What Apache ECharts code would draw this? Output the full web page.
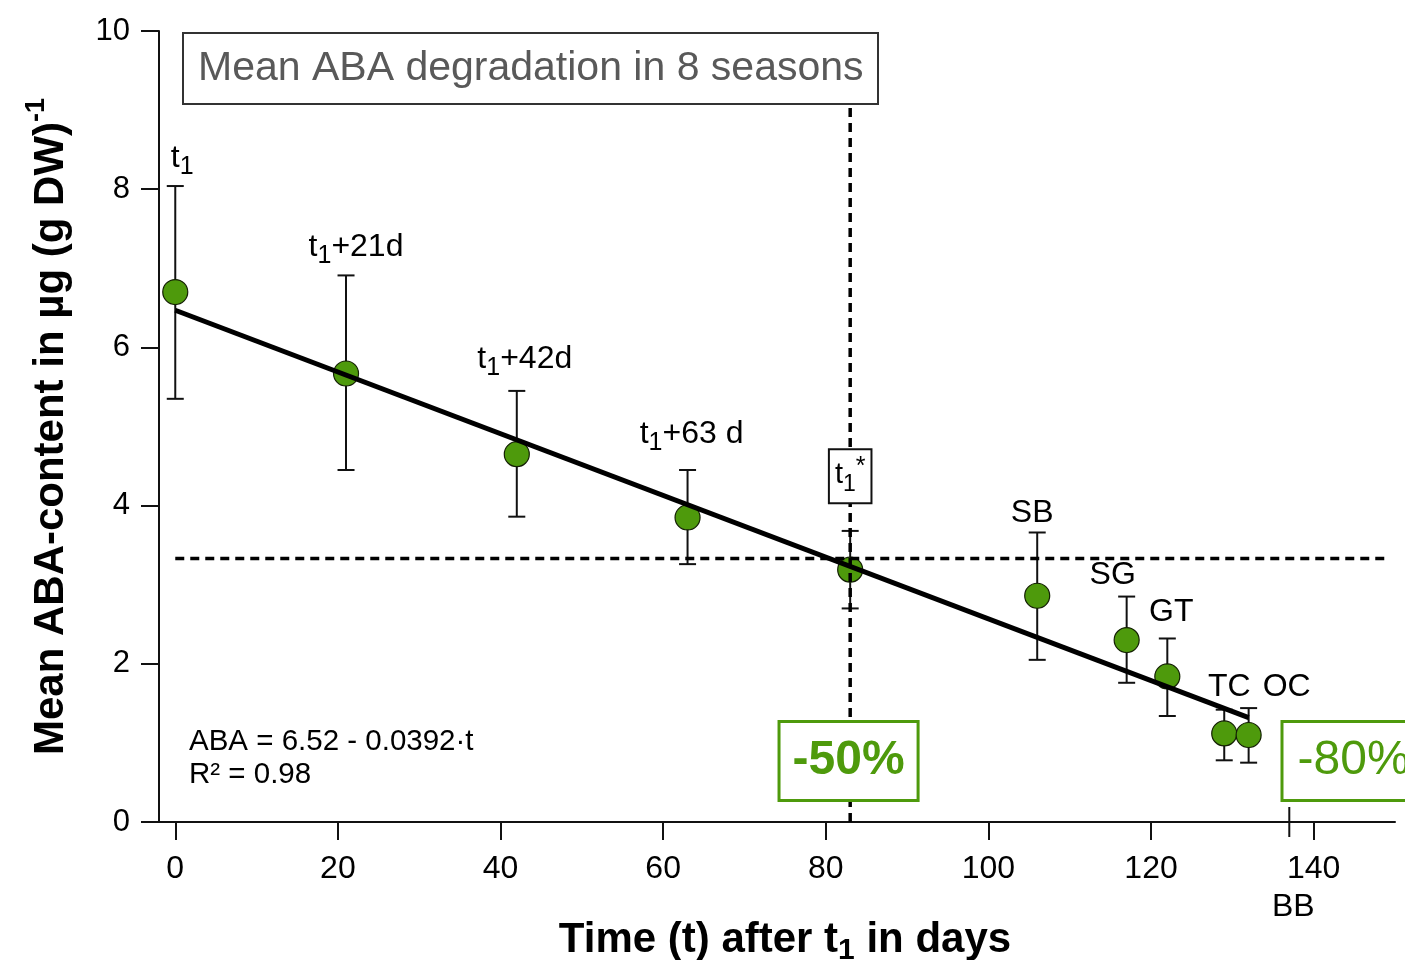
<!DOCTYPE html>
<html>
<head>
<meta charset="utf-8">
<title>Mean ABA degradation</title>
<script src="https://cdn.jsdelivr.net/npm/echarts@6/dist/echarts.min.js"></script>
<style>
  html, body { margin: 0; padding: 0; background: #fff; }
  #chart { width: 1405px; height: 960px; }
</style>
</head>
<body>
<div id="chart"></div>
<script>
// values
const timeDays = [0, 21, 42, 63, 83, 106, 117, 122, 129, 132];
const abaMean = [6.70, 5.67, 4.65, 3.85, 3.19, 2.86, 2.30, 1.84, 1.12, 1.10];
const errUpper = [8.04, 6.91, 5.45, 4.45, 3.68, 3.66, 2.85, 2.32, 1.42, 1.44];
const errLower = [5.35, 4.45, 3.86, 3.26, 2.70, 2.05, 1.76, 1.34, 0.78, 0.75];
const pointLabels = ['{m|t}{s|1}', '{m|t}{s|1}{m|+21d}', '{m|t}{s|1}{m|+42d}', '{m|t}{s|1}{m|+63 d}', '',
  '{m|SB}', '{m|SG}', '{m|GT}', '{m|TC}', '{m|OC}'];
const fitLine = [[0, 6.47], [132, 1.32]];
const halfTime = 83;      // t1*
const halfLevel = 3.33;
const budBreak = 137;     // BB
const xTicks = [0, 20, 40, 60, 80, 100, 120, 140];

const FONT = '"Liberation Sans", Arial, sans-serif';
const GREEN = '#4e9a0c';

// label nudges [dx, dy] in px, just to sit them like the original
const nudge = [[7, -8], [10, -8], [8, -12], [4, -16], [0, 0], [-5, 1], [-14, -1], [4, -6], [5, -3], [38, -1]];

const richMain = {
  m: { fontSize: 32, lineHeight: 40, color: '#000', fontFamily: FONT },
  s: { fontSize: 25, lineHeight: 22, padding: [18, 0, 0, 0], color: '#000', fontFamily: FONT },
  u: { fontSize: 26, lineHeight: 24, padding: [0, 0, 16, 0], color: '#000', fontFamily: FONT }
};
const richBox = {
  m: { fontSize: 29, lineHeight: 40, color: '#000', fontFamily: FONT },
  s: { fontSize: 23, lineHeight: 22, padding: [18, 0, 0, 0], color: '#000', fontFamily: FONT },
  u: { fontSize: 25, lineHeight: 24, padding: [0, 0, 16, 0], color: '#000', fontFamily: FONT }
};

const myChart = echarts.init(document.getElementById('chart'));

const option = {
  animation: false,
  textStyle: { fontFamily: FONT },
  title: {
    text: 'Mean ABA degradation in 8 seasons',
    left: 183, top: 33,
    padding: [13, 15],
    borderColor: '#333', borderWidth: 2,
    backgroundColor: '#fff',
    textStyle: { fontSize: 41, fontWeight: 'normal', color: '#595959', lineHeight: 45, fontFamily: FONT }
  },
  grid: { left: 159, right: 10, top: 31, bottom: 138, outerBoundsMode: 'none', containLabel: false },
  xAxis: {
    type: 'value', min: -2, max: 150,
    splitLine: { show: false },
    axisLine: { onZero: false, lineStyle: { color: '#111', width: 2 } },
    axisTick: { customValues: xTicks, length: 18, lineStyle: { color: '#111', width: 2 } },
    axisLabel: { customValues: xTicks, fontSize: 32, color: '#000', margin: 31 },
    name: 'Time (t) after t{s|1} in days',
    nameLocation: 'middle', nameGap: 91,
    nameTextStyle: {
      fontSize: 42, fontWeight: 'bold', color: '#000', lineHeight: 54, padding: [0, 0, 0, 16],
      rich: { s: { fontSize: 30, fontWeight: 'bold', lineHeight: 30, padding: [22, 0, 0, 0], color: '#000' } }
    }
  },
  yAxis: {
    type: 'value', min: 0, max: 10, interval: 2,
    splitLine: { show: false },
    axisLine: { onZero: false, lineStyle: { color: '#111', width: 2 } },
    axisTick: { length: 18, lineStyle: { color: '#111', width: 2 } },
    axisLabel: { fontSize: 31, color: '#000', margin: 29 },
    name: 'Mean ABA-content in µg (g DW){p|-1}',
    nameLocation: 'middle', nameGap: 81,
    nameTextStyle: {
      fontSize: 42, fontWeight: 'bold', color: '#000', lineHeight: 54,
      rich: { p: { fontSize: 27, fontWeight: 'bold', lineHeight: 26, padding: [0, 0, 28, 0], color: '#000' } }
    }
  },
  graphic: [{
    type: 'text', left: 189, top: 725, z: 20,
    style: {
      text: 'ABA = 6.52 - 0.0392·t\nR² = 0.98',
      font: '29.5px ' + FONT, lineHeight: 33, fill: '#000'
    }
  }],
  series: [
    {
      name: 'error bars', type: 'custom', z: 2,
      data: timeDays.map((t, i) => [t, errLower[i], errUpper[i]]),
      encode: { x: 0, y: [1, 2] },
      renderItem(params, api) {
        const hi = api.coord([api.value(0), api.value(2)]);
        const lo = api.coord([api.value(0), api.value(1)]);
        const w = 8.5;
        const st = { stroke: '#111', lineWidth: 2 };
        return {
          type: 'group',
          children: [
            { type: 'line', shape: { x1: hi[0], y1: hi[1], x2: lo[0], y2: lo[1] }, style: st },
            { type: 'line', shape: { x1: hi[0] - w, y1: hi[1], x2: hi[0] + w, y2: hi[1] }, style: st },
            { type: 'line', shape: { x1: lo[0] - w, y1: lo[1], x2: lo[0] + w, y2: lo[1] }, style: st }
          ]
        };
      }
    },
    {
      name: 'mean', type: 'scatter', z: 3,
      symbolSize: 25,
      itemStyle: { color: GREEN, borderColor: '#142004', borderWidth: 1.2, opacity: 1 },
      data: timeDays.map((t, i) => [t, abaMean[i]])
    },
    {
      name: 'fit', type: 'line', z: 4,
      showSymbol: false, symbol: 'none',
      lineStyle: { color: '#000', width: 5 },
      data: fitLine
    },
    {
      name: 'half lines', type: 'line', z: 5,
      showSymbol: false, symbol: 'none', connectNulls: false,
      lineStyle: { color: '#000', width: 3.5, type: [9, 6] },
      data: [[0, halfLevel], [149.3, halfLevel], null, [halfTime, 0], [halfTime, 10]]
    },
    {
      name: 'labels', type: 'scatter', z: 6,
      symbolSize: 0, silent: true,
      itemStyle: { opacity: 1 },
      data: timeDays.map((t, i) => ({
        value: [t, errUpper[i]],
        label: {
          show: pointLabels[i] !== '', position: 'top', distance: 0,
          offset: nudge[i], formatter: pointLabels[i], rich: richMain
        }
      }))
    },
    {
      name: 'boxes', type: 'scatter', z: 10,
      symbolSize: 0, silent: true, clip: false,
      itemStyle: { opacity: 1 },
      data: [
        {
          value: [halfTime, 4.37],
          label: {
            show: true, position: 'inside', formatter: '{m|t}{s|1}{u|*}', rich: richBox,
            backgroundColor: '#fff', borderColor: '#111', borderWidth: 2, padding: [5, 5, 7, 5]
          }
        },
        {
          value: [82.8, 0.77],
          label: {
            show: true, position: 'inside', formatter: '-50%',
            fontSize: 48, fontWeight: 'bold', color: GREEN, lineHeight: 56,
            backgroundColor: '#fff', borderColor: GREEN, borderWidth: 3, padding: [10, 12, 10, 12]
          }
        },
        {
          value: [144.9, 0.77],
          label: {
            show: true, position: 'inside', formatter: '-80%',
            fontSize: 48, color: GREEN, lineHeight: 56,
            backgroundColor: '#fff', borderColor: GREEN, borderWidth: 3, padding: [10, 14, 10, 14]
          }
        }
      ]
    },
    {
      name: 'BB', type: 'line', z: 6,
      clip: false, symbol: 'circle', symbolSize: 0, showSymbol: true,
      lineStyle: { color: '#111', width: 2 },
      data: [
        {
          value: [budBreak, -0.19],
          label: { show: true, position: 'bottom', distance: 54, offset: [4, 0], formatter: 'BB', fontSize: 32, color: '#000' }
        },
        [budBreak, 0.19]
      ]
    },
    {
      name: 'axis stub', type: 'line', z: 1,
      clip: false, showSymbol: false, symbol: 'none',
      lineStyle: { color: '#111', width: 2 },
      data: [[-4.2, 0], [-2, 0]]
    }
  ]
};

myChart.setOption(option);
</script>
</body>
</html>
